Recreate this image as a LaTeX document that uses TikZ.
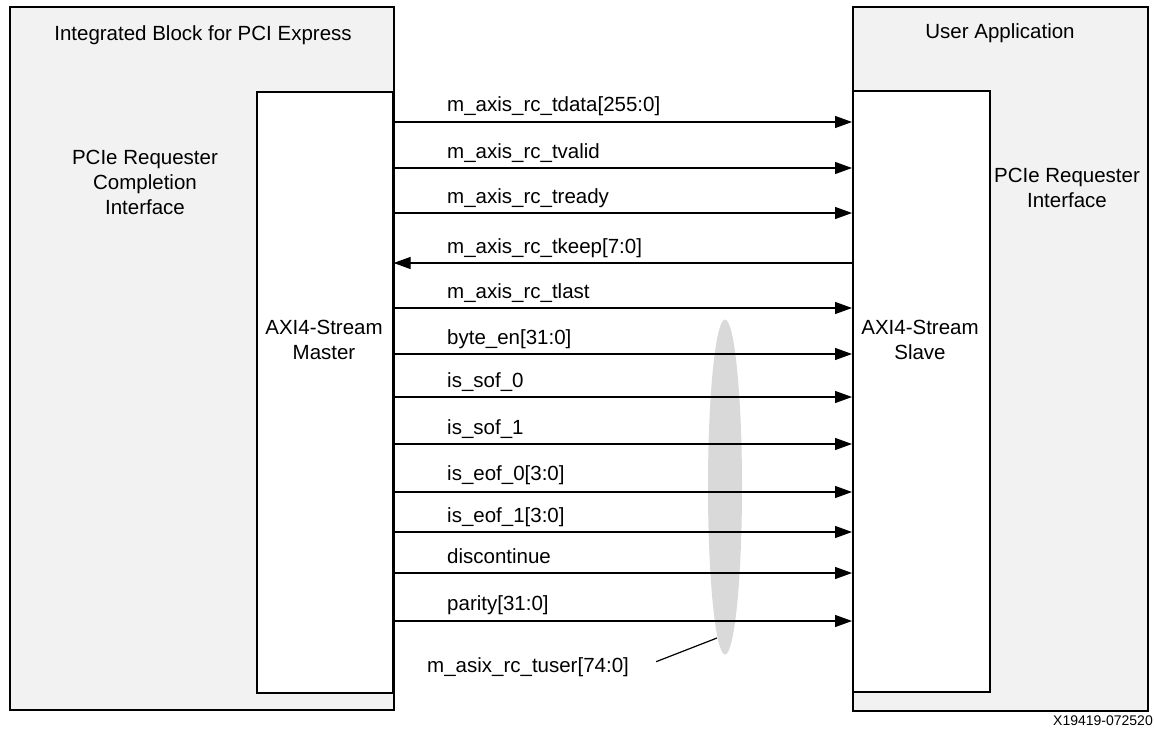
\documentclass[tikz,border=0pt]{standalone}
\usepackage{fontspec}
\setmainfont{Liberation Sans}
\usetikzlibrary{arrows.meta,shapes.geometric}
\definecolor{boxgray}{HTML}{F2F2F2}
\definecolor{ovalgray}{HTML}{D9D9D9}
\tikzset{
  outerbox/.style={draw=black, line width=1.6pt, fill=boxgray, rectangle, inner sep=0pt, anchor=north west},
  innerbox/.style={draw=black, line width=1.6pt, fill=white, rectangle, inner sep=0pt, anchor=north west},
  sig/.style={line width=1.2pt, -{Triangle[length=17pt,width=12pt]}},
  siglabel/.style={anchor=base west, inner sep=0pt, font=\fontsize{20.5}{25}\selectfont},
  boxlabel/.style={align=center, inner sep=0pt, font=\fontsize{20.5}{25}\selectfont},
}
\begin{document}
\begin{tikzpicture}[x=1pt,y=-1pt]
\useasboundingbox (0,0) rectangle (1154,733);
% boxes
\node[outerbox, minimum width=384pt, minimum height=703pt] (ib) at (9,6) {};
\node[innerbox, minimum width=136pt, minimum height=601pt] (master) at (256,91) {};
\node[outerbox, minimum width=295pt, minimum height=704pt] (ua) at (852,6) {};
\node[innerbox, minimum width=137pt, minimum height=601pt] (slave) at (852,90) {};
% box texts
\node[boxlabel, anchor=base] (ibt) at (203,41) {Integrated Block for PCI Express};
\node[boxlabel, anchor=base] (uat) at (1000,39) {User Application};
\node[boxlabel] (rci) at (145,182) {PCIe Requester\\Completion\\Interface};
\node[boxlabel] (rqi) at (1067,188) {PCIe Requester\\Interface};
\node[boxlabel] (mt) at (324,340) {AXI4-Stream\\Master};
\node[boxlabel] (st) at (920,340) {AXI4-Stream\\Slave};
% oval
\node[ellipse, fill=ovalgray, minimum width=34pt, minimum height=335pt, inner sep=0pt] (oval) at (725,487) {};
% rows
\foreach \n/\y in {r1/122,r2/168,r3/213,r4/263,r5/308,r6/354,r7/397,r8/444,r9/492,r10/532,r11/573,r12/621}
  {\coordinate (\n) at (0,\y);}
\draw[sig] (master.east |- r1) -- (slave.west |- r1);
\draw[sig] (master.east |- r2) -- (slave.west |- r2);
\draw[sig] (master.east |- r3) -- (slave.west |- r3);
\draw[sig] (slave.west |- r4) -- (master.east |- r4);
\draw[sig] (master.east |- r5) -- (slave.west |- r5);
\draw[sig] (master.east |- r6) -- (slave.west |- r6);
\draw[sig] (master.east |- r7) -- (slave.west |- r7);
\draw[sig] (master.east |- r8) -- (slave.west |- r8);
\draw[sig] (master.east |- r9) -- (slave.west |- r9);
\draw[sig] (master.east |- r10) -- (slave.west |- r10);
\draw[sig] (master.east |- r11) -- (slave.west |- r11);
\draw[sig] (master.east |- r12) -- (slave.west |- r12);
% labels
\node[siglabel] (l1) at (447,112) {m\_axis\_rc\_tdata[255:0]};
\node[siglabel] (l2) at (447,158) {m\_axis\_rc\_tvalid};
\node[siglabel] (l3) at (447,203) {m\_axis\_rc\_tready};
\node[siglabel] (l4) at (447,253) {m\_axis\_rc\_tkeep[7:0]};
\node[siglabel] (l5) at (447,298) {m\_axis\_rc\_tlast};
\node[siglabel] (l6) at (447,344) {byte\_en[31:0]};
\node[siglabel] (l7) at (447,387) {is\_sof\_0};
\node[siglabel] (l8) at (447,434) {is\_sof\_1};
\node[siglabel] (l9) at (447,480) {is\_eof\_0[3:0]};
\node[siglabel] (l10) at (447,522) {is\_eof\_1[3:0]};
\node[siglabel] (l11) at (447,563) {discontinue};
\node[siglabel] (l12) at (447,610) {parity[31:0]};
% tuser callout
\node[siglabel] (tuser) at (427,672) {m\_asix\_rc\_tuser[74:0]};
\coordinate (lead) at (717,638);
\draw[line width=1.2pt] ([xshift=27pt,yshift=5pt]tuser.east) -- (lead);
% figure id
\node[anchor=base east, inner sep=0pt, font=\fontsize{14}{16}\selectfont] (fid) at (1153,725) {X19419-072520};
\end{tikzpicture}
\end{document}
